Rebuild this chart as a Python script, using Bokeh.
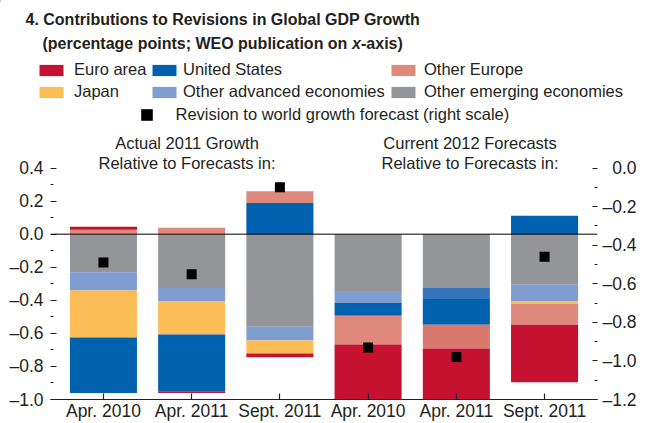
import numpy as np
from bokeh.plotting import figure
from bokeh.layouts import column
from bokeh.models import (ColumnDataSource, Range1d, LinearAxis, FixedTicker, Span,
                          Label, Legend, LegendItem)
from bokeh.embed import file_html
from bokeh.resources import INLINE

# ---------------- data ----------------
categories = ["Apr. 2010", "Apr. 2011", "Sept. 2011", "Apr. 2010", "Apr. 2011", "Sept. 2011"]
group_titles = [["Actual 2011 Growth", "Relative to Forecasts in:"],
                ["Current 2012 Forecasts", "Relative to Forecasts in:"]]

series_names = ["Other emerging economies", "Other advanced economies", "Japan",
                "United States", "Other Europe", "Euro area"]
other_emerging = [-0.230, -0.326, -0.560, -0.344, -0.326, -0.306]
other_advanced = [-0.110, -0.078, -0.083, -0.072, -0.066, -0.098]
japan          = [-0.285, -0.203, -0.078,  0.000,  0.000, -0.018]
united_states  = [-0.335, -0.343,  0.188, -0.078, -0.156,  0.111]
other_europe   = [ 0.027,  0.039,  0.072, -0.173, -0.143, -0.126]
euro_area      = [ 0.018, -0.010, -0.024, -0.330, -0.306, -0.347]
world_revision = [-0.49, -0.55, -0.10, -0.93, -0.98, -0.46]
marker_name = "Revision to world growth forecast (right scale)"

left_ticks = [-1.0, -0.8, -0.6, -0.4, -0.2, 0.0, 0.2, 0.4]
left_tick_labels = ["\u20131.0", "\u20130.8", "\u20130.6", "\u20130.4", "\u20130.2", "0.0", "0.2", "0.4"]
left_minor = [-0.9, -0.7, -0.5, -0.3, -0.1, 0.1, 0.3]
right_ticks = [-1.2, -1.0, -0.8, -0.6, -0.4, -0.2, 0.0]
right_tick_labels = ["\u20131.2", "\u20131.0", "\u20130.8", "\u20130.6", "\u20130.4", "\u20130.2", "\u20070.0"]
right_minor = [-1.1, -0.9, -0.7, -0.5, -0.3, -0.1]

# ---------------- style ----------------
colors = {
    "Other emerging economies": "#939598",
    "Other advanced economies": "#7F9DD1",
    "Japan": "#FDBD56",
    "United States": "#0061AE",
    "Other Europe": "#DF887C",
    "Euro area": "#C41230",
}
# slightly different shades seen in the fifth bar
color_overrides = {("Other advanced economies", 4): "#3574BA", ("Other Europe", 4): "#D9786C"}

FONT = "Liberation Sans"
TXT = "#231F20"

TOP_H = 128                     # height of the title / legend strip
W, H = 652, 423 - TOP_H         # main chart
ML, MR, MB = 50, 55, 21
FL, FR, FT, FB = ML, W - MR, TOP_H, 423 - MB   # frame edges in page pixels
XR = (-0.6, 5.6)
PX_X = (FR - FL) / (XR[1] - XR[0])
PX_Y = 234 / 1.4                # left scale: -1.0 .. 0.4 over 234 px
PX_YR = 234 / 1.2               # right scale: -1.2 .. 0.0 over 234 px
YR = (-1.0, -1.0 + (FB - FT) / PX_Y)
YRR = (-1.2, -1.2 + (FB - FT) / PX_YR)


def xd(px):
    return XR[0] + (px - FL) / PX_X


def yd(py):
    return YR[0] + (FB - py) / PX_Y


# ---------------- stacking ----------------
vals = np.array([other_emerging, other_advanced, japan, united_states, other_europe, euro_area])
pos = np.clip(vals, 0, None)
neg = np.clip(vals, None, 0)
pos_cum = np.cumsum(pos, axis=0)
neg_cum = np.cumsum(neg, axis=0)
bottoms = np.where(vals >= 0, pos_cum - pos, neg_cum)
tops = np.where(vals >= 0, pos_cum, neg_cum - neg)

x = list(range(len(categories)))
data = dict(x=x, rev=world_revision)
for k, name in enumerate(series_names):
    data[f"b{k}"] = bottoms[k]
    data[f"t{k}"] = tops[k]
    data[f"c{k}"] = [color_overrides.get((name, i), colors[name]) for i in x]
src = ColumnDataSource(data)

p = figure(width=W, height=H, x_range=Range1d(*XR), y_range=Range1d(*YR),
           output_backend="svg", toolbar_location=None,
           min_border_left=ML, min_border_right=MR, min_border_top=0, min_border_bottom=MB,
           x_axis_type=None, y_axis_type=None)
p.frame_align = False
p.outline_line_color = None
p.extra_y_ranges = {"right": Range1d(*YRR)}

for k, name in enumerate(series_names):
    p.vbar(x="x", width=0.76, bottom=f"b{k}", top=f"t{k}",
           fill_color=f"c{k}", line_color=None, source=src)

p.add_layout(Span(location=0, dimension="width", line_color="black", line_width=1))

p.scatter(x="x", y="rev", source=src, y_range_name="right", marker="square",
          size=10, fill_color="black", line_color=None)


# ---------------- axes ----------------
def overrides(ticks, labels):
    d = {}
    for t_, l in zip(ticks, labels):
        d[float(t_)] = l
        d["%g" % t_] = l
    return d


def style_y(ax, tick_in, standoff):
    ax.axis_line_color = None
    ax.major_tick_in = tick_in
    ax.major_tick_out = 0
    ax.minor_tick_in = 3
    ax.minor_tick_out = 0
    ax.major_tick_line_color = TXT
    ax.minor_tick_line_color = TXT
    ax.major_label_standoff = standoff
    ax.major_label_text_font = FONT
    ax.major_label_text_font_size = "17.5px"
    ax.major_label_text_color = TXT


yl = LinearAxis(ticker=FixedTicker(ticks=left_ticks, minor_ticks=left_minor),
                major_label_overrides=overrides(left_ticks, left_tick_labels))
style_y(yl, 6, 7)
p.add_layout(yl, "left")

yr = LinearAxis(y_range_name="right",
                ticker=FixedTicker(ticks=right_ticks, minor_ticks=right_minor),
                major_label_overrides=overrides(right_ticks, right_tick_labels))
style_y(yr, 5, 5)
p.add_layout(yr, "right")

xb = LinearAxis(ticker=FixedTicker(ticks=x),
                major_label_overrides=overrides(x, categories))
xb.axis_line_color = TXT
xb.axis_line_width = 1.2
xb.major_tick_in = 6
xb.major_tick_out = 0
xb.major_tick_line_color = TXT
xb.major_tick_line_width = 1.2
xb.major_label_standoff = 1
xb.major_label_text_font = FONT
xb.major_label_text_font_size = "17.5px"
xb.major_label_text_color = TXT
p.add_layout(xb, "below")

for cx, lines in zip([186.5, 469.5], group_titles):
    for ly, line in zip([142.5, 163], lines):
        p.add_layout(Label(x=xd(cx), y=yd(ly), text=line, text_align="center",
                           text_baseline="alphabetic", text_font=FONT,
                           text_font_size="16.5px", text_color=TXT))

# ---------------- title and legend strip ----------------
t = figure(width=W, height=TOP_H, x_range=Range1d(0, W), y_range=Range1d(TOP_H, 0),
           output_backend="svg", toolbar_location=None,
           min_border_left=0, min_border_right=0, min_border_top=0, min_border_bottom=0,
           x_axis_type=None, y_axis_type=None)
t.frame_align = False
t.outline_line_color = None


def tlab(px, py, text, size, style="normal"):
    t.add_layout(Label(x=px, y=py, text=text, text_align="left", text_baseline="alphabetic",
                       text_font=FONT, text_font_size=size, text_font_style=style,
                       text_color=TXT))


tlab(25, 18.5, "4. Contributions to Revisions in Global GDP Growth", "16px", "bold")
tlab(42, 42.5, "(percentage points; WEO publication on", "16px", "bold")
tlab(351.5, 42.5, "x", "16px", "bold italic")
tlab(360.5, 42.5, "-axis)", "16px", "bold")

legend_specs = [  # name, swatch left, row top, standoff
    ("Euro area", 36, 56.5, 8), ("United States", 149, 56.5, 4), ("Other Europe", 388, 56.5, 6),
    ("Japan", 36, 78.5, 8), ("Other advanced economies", 149, 78.5, 4),
    ("Other emerging economies", 388, 78.5, 6),
]
LH = 26
OFF = [-1000]   # legend-only renderers sit outside the visible range
for name, sx, sy, so in legend_specs:
    r = t.vbar(x=OFF, top=[1], bottom=[0], width=1, fill_color=colors[name], line_color=None)
    leg = Legend(items=[LegendItem(label=name, renderers=[r])],
                 location=(sx, TOP_H - (sy + LH)), orientation="vertical",
                 padding=0, margin=0, spacing=0, glyph_width=30, glyph_height=14,
                 label_height=LH, label_standoff=so, label_text_baseline="alphabetic",
                 label_text_font=FONT, label_text_font_size="16.5px", label_text_color=TXT,
                 border_line_color=None, background_fill_alpha=0)
    t.add_layout(leg)

MLH = 35
rm = t.scatter(x=OFF, y=[0], marker="square", fill_color="black", line_color=None)
leg = Legend(items=[LegendItem(label=marker_name, renderers=[rm])],
             location=(131.5, TOP_H - (96.7 + MLH)), orientation="vertical",
             padding=0, margin=0, spacing=0, glyph_width=29, glyph_height=29,
             label_height=MLH, label_standoff=15, label_text_baseline="alphabetic",
             label_text_font=FONT, label_text_font_size="16.5px", label_text_color=TXT,
             border_line_color=None, background_fill_alpha=0)
t.add_layout(leg)

layout = column(t, p, spacing=0)
open("out.html", "w").write(file_html(layout, INLINE))
